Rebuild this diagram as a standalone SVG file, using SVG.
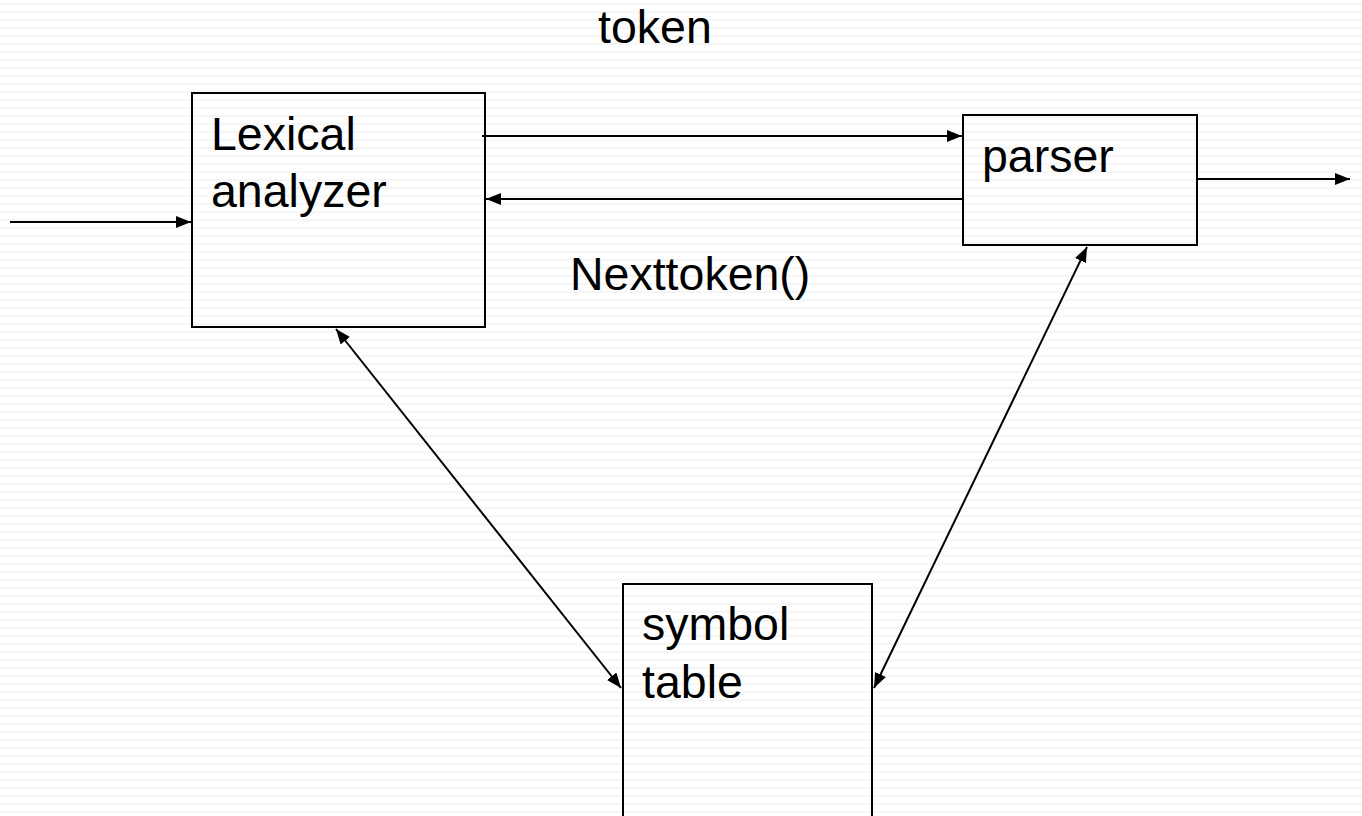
<svg xmlns="http://www.w3.org/2000/svg" width="1362" height="816" viewBox="0 0 1362 816">
  <defs>
    <!-- faint zigzag paper texture -->
    <pattern id="zigzag" width="8" height="8" patternUnits="userSpaceOnUse">
      <rect width="8" height="8" fill="#ffffff"/>
      <polyline points="0,5 2,3 4,5 6,3 8,5" fill="none" stroke="#f3f3f3" stroke-width="1.2"/>
    </pattern>
    <marker id="arrow" viewBox="0 0 15 12" refX="15" refY="6" markerWidth="15" markerHeight="12" markerUnits="userSpaceOnUse" orient="auto-start-reverse">
      <path d="M0,0 L15,6 L0,12 Z" fill="#000"/>
    </marker>
    <style>
      .box { fill: none; stroke: #000; stroke-width: 2; }
      .conn { fill: none; stroke: #000; stroke-width: 2; }
      .lbl { font-family: "Liberation Sans", Arial, sans-serif; font-size: 46.5px; fill: #000; }
    </style>
  </defs>

  <rect width="1362" height="816" fill="url(#zigzag)"/>

  <g id="lexical-analyzer">
    <rect class="box" x="192" y="93" width="293" height="234"/>
    <text class="lbl" x="211" y="150">Lexical</text>
    <text class="lbl" x="211" y="207">analyzer</text>
  </g>

  <g id="parser">
    <rect class="box" x="963" y="115" width="234" height="130"/>
    <text class="lbl" x="982" y="172">parser</text>
  </g>

  <g id="symbol-table">
    <rect class="box" x="623" y="584" width="249" height="240"/>
    <text class="lbl" x="642" y="640">symbol</text>
    <text class="lbl" x="642" y="698">table</text>
  </g>

  <g id="connectors">
    <line class="conn" x1="10" y1="222" x2="191" y2="222" marker-end="url(#arrow)"/>
    <line class="conn" x1="482" y1="136" x2="962" y2="136" marker-end="url(#arrow)"/>
    <line class="conn" x1="963" y1="199" x2="486" y2="199" marker-end="url(#arrow)"/>
    <line class="conn" x1="1197" y1="179" x2="1350" y2="179" marker-end="url(#arrow)"/>
    <line class="conn" x1="336" y1="329" x2="621" y2="688" marker-start="url(#arrow)" marker-end="url(#arrow)"/>
    <line class="conn" x1="1087" y1="247" x2="874" y2="688" marker-start="url(#arrow)" marker-end="url(#arrow)"/>
  </g>

  <g id="labels">
    <text class="lbl" x="598" y="43">token</text>
    <text class="lbl" x="570" y="290">Nexttoken()</text>
  </g>
</svg>
